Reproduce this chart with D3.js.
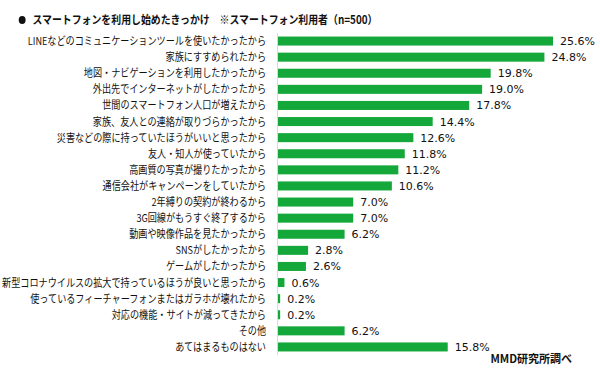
<!DOCTYPE html>
<html>
<head>
<meta charset="utf-8">
<script src="https://cdn.jsdelivr.net/npm/d3@7"></script>
<style>
  body { margin: 0; background: #fff; }
  svg { display: block; }
</style>
</head>
<body>
<div id="chart"></div>
<script>
    // Survey answers (multiple choice), in display order
    var categories = [
        'LINEなどのコミュニケーションツールを使いたかったから',
        '家族にすすめられたから',
        '地図・ナビゲーションを利用したかったから',
        '外出先でインターネットがしたかったから',
        '世間のスマートフォン人口が増えたから',
        '家族、友人との連絡が取りづらかったから',
        '災害などの際に持っていたほうがいいと思ったから',
        '友人・知人が使っていたから',
        '高画質の写真が撮りたかったから',
        '通信会社がキャンペーンをしていたから',
        '2年縛りの契約が終わるから',
        '3G回線がもうすぐ終了するから',
        '動画や映像作品を見たかったから',
        'SNSがしたかったから',
        'ゲームがしたかったから',
        '新型コロナウイルスの拡大で持っているほうが良いと思ったから',
        '使っているフィーチャーフォンまたはガラホが壊れたから',
        '対応の機能・サイトが減ってきたから',
        'その他',
        'あてはまるものはない'
    ];
    var values = [25.6, 24.8, 19.8, 19.0, 17.8, 14.4, 12.6, 11.8, 11.2, 10.6,
                  7.0, 7.0, 6.2, 2.8, 2.6, 0.6, 0.2, 0.2, 6.2, 15.8];

    var title = 'スマートフォンを利用し始めたきっかけ';
    var subtitle = '※スマートフォン利用者（n=500）';
    var source = 'MMD研究所調べ';

    var rows = categories.map(function (c, i) { return { name: c, value: values[i] }; });

    var width = 600, height = 370;
    var jp = '"Noto Sans CJK JP", "Noto Sans", sans-serif';
    var green = '#14a83b';

    var svg = d3.select('#chart')
        .append('svg')
        .attr('width', width)
        .attr('height', height);

    svg.append('rect')
        .attr('width', width)
        .attr('height', height)
        .attr('fill', '#fff');

    var x = d3.scaleLinear()
        .domain([0, d3.max(values)])
        .range([278, 553]);

    var y = d3.scaleBand()
        .domain(categories)
        .range([33, 355])
        .paddingInner(0.44)
        .paddingOuter(0.22);

    // Title
    var head = svg.append('g')
        .attr('transform', 'translate(17,24) scale(0.86,1)');
    head.append('circle')
        .attr('cx', 6)
        .attr('cy', -4)
        .attr('r', 4)
        .attr('fill', '#111');
    head.append('text')
        .attr('x', 18)
        .attr('font-family', jp)
        .attr('font-size', '11.5px')
        .attr('font-weight', 'bold')
        .attr('fill', '#111')
        .text(title + '　' + subtitle);

    // Vertical axis line
    svg.append('line')
        .attr('x1', 277.5)
        .attr('x2', 277.5)
        .attr('y1', 33)
        .attr('y2', 355)
        .attr('stroke', '#d9d9d9')
        .attr('stroke-width', 1);

    // Bars
    svg.selectAll('.bar')
        .data(rows)
        .enter()
        .append('rect')
        .attr('class', 'bar')
        .attr('x', x(0))
        .attr('y', function (d) { return y(d.name); })
        .attr('width', function (d) { return Math.max(1.5, x(d.value) - x(0)); })
        .attr('height', y.bandwidth())
        .attr('fill', green);

    // Category labels (condensed like the original font)
    svg.selectAll('.cat')
        .data(rows)
        .enter()
        .append('text')
        .attr('class', 'cat')
        .attr('transform', function (d) {
            return 'translate(266,' + (y(d.name) + y.bandwidth() / 2) + ') scale(0.83,1)';
        })
        .attr('text-anchor', 'end')
        .attr('dy', '0.36em')
        .attr('font-family', jp)
        .attr('font-size', '11px')
        .attr('fill', '#111')
        .text(function (d) { return d.name; });

    // Value labels
    svg.selectAll('.val')
        .data(rows)
        .enter()
        .append('text')
        .attr('class', 'val')
        .attr('x', function (d) { return Math.max(x(d.value), x(0) + 1.5) + 7; })
        .attr('y', function (d) { return y(d.name) + y.bandwidth() / 2; })
        .attr('dy', '0.36em')
        .attr('font-family', '"DejaVu Sans", sans-serif')
        .attr('font-size', '11px')
        .attr('fill', '#111')
        .text(function (d) { return d.value.toFixed(1) + '%'; });

    // Source
    svg.append('text')
        .attr('x', 572)
        .attr('y', 363)
        .attr('text-anchor', 'end')
        .attr('font-family', jp)
        .attr('font-size', '11px')
        .attr('font-weight', 'bold')
        .attr('fill', '#111')
        .text(source);
</script>
</body>
</html>
